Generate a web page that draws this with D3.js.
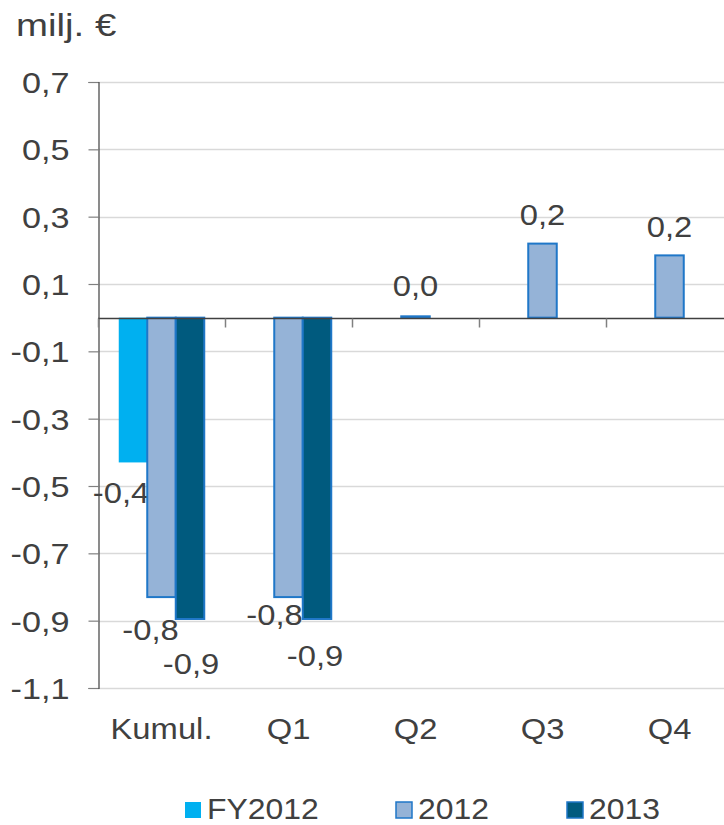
<!DOCTYPE html>
<html>
<head>
<meta charset="utf-8">
<script src="https://cdn.jsdelivr.net/npm/d3@7/dist/d3.min.js"></script>
<style>
  body { margin: 0; background: #fff; }
  text { font-family: "Liberation Sans", Arial, sans-serif; fill: #404040; }
</style>
</head>
<body>
<div id="display"></div>
<script>
// data
const categories = ['Kumul.', 'Q1', 'Q2', 'Q3', 'Q4'];
const seriesNames = ['FY2012', '2012', '2013'];
const fy2012 = [-0.43, null, null, null, null];
const v2012 = [-0.83, -0.83, 0.004, 0.22, 0.185];
const v2013 = [-0.895, -0.895, null, null, null];
const labelsFY = ['-0,4', '', '', '', ''];
const labels2012 = ['-0,8', '-0,8', '0,0', '0,2', '0,2'];
const labels2013 = ['-0,9', '-0,9', '', '', ''];
const yTicks = [0.7, 0.5, 0.3, 0.1, -0.1, -0.3, -0.5, -0.7, -0.9, -1.1];

const colors = { 'FY2012': '#00b0f0', '2012': '#95b3d7', '2013': '#005a7e' };
const strokes = { 'FY2012': 'none', '2012': '#1f77c8', '2013': '#1f77c8' };

// where the exported data labels ended up, relative to bar end
const nudge = {
    'FY2012': [[-12, 30]],
    '2012': [[-11, 32], [-14, 17], [0, -31], [0, -29], [0, -29]],
    '2013': [[1, 45], [-2, 37]]
};

// the original text is a bit wider than Liberation Sans
const stretch = 1.13;

const svg = d3.select('#display')
    .append('svg')
    .attr('width', 724)
    .attr('height', 825);

const x = d3.scaleBand().domain(categories).range([98, 733]);
const xs = d3.scaleBand().domain(seriesNames).range([0, x.bandwidth()]).paddingOuter(0.728);
const y = d3.scaleLinear().domain([-1.1, 0.7]).range([688, 82]);

function putText(sel, px, py, k) {
    return sel.attr('x', null).attr('y', null)
        .attr('transform', (d, i) => `translate(${px(d, i)},${py(d, i)}) scale(${k},1)`);
}

// unit
putText(svg.append('text').datum(0), () => 16, () => 36, 1.2)
    .attr('font-size', '32px')
    .text('milj. €');

// grid
svg.append('g').selectAll('line')
    .data(yTicks)
    .join('line')
    .attr('x1', 98).attr('x2', 724)
    .attr('y1', d => Math.round(y(d)) + 0.5).attr('y2', d => Math.round(y(d)) + 0.5)
    .attr('stroke', '#d9d9d9').attr('stroke-width', 1.5);

// y axis
const yAxis = svg.append('g')
    .attr('transform', 'translate(98.5,0)')
    .call(d3.axisLeft(y).tickValues(yTicks).tickSize(10)
        .tickFormat(d => d3.format('.1f')(d).replace('.', ',').replace('−', '-')));
yAxis.select('.domain').attr('stroke', '#404040').attr('stroke-width', 1.2);
yAxis.selectAll('.tick line').attr('stroke', '#808080').attr('stroke-width', 1.2);
putText(yAxis.selectAll('.tick text'), () => -29, () => 0, 1.18)
    .attr('dy', '0.36em')
    .attr('font-size', '29px').attr('font-family', '"Liberation Sans", Arial, sans-serif')
    .attr('fill', '#404040');

// bars
const series = [
    { name: 'FY2012', values: fy2012, labels: labelsFY },
    { name: '2012', values: v2012, labels: labels2012 },
    { name: '2013', values: v2013, labels: labels2013 }
];

series.forEach(s => {
    const pts = categories.map((c, i) => ({ c, i, v: s.values[i], l: s.labels[i] }))
        .filter(d => d.v !== null);
    svg.append('g').selectAll('rect')
        .data(pts)
        .join('rect')
        .attr('x', d => x(d.c) + xs(s.name))
        .attr('width', xs.bandwidth())
        .attr('y', d => y(Math.max(0, d.v)))
        .attr('height', d => Math.max(1, Math.abs(y(d.v) - y(0))))
        .attr('fill', colors[s.name])
        .attr('stroke', strokes[s.name])
        .attr('stroke-width', 2);

    putText(svg.append('g').selectAll('text').data(pts).join('text'),
        d => x(d.c) + xs(s.name) + xs.bandwidth() / 2 + nudge[s.name][d.i][0],
        d => y(d.v) + nudge[s.name][d.i][1], stretch)
        .attr('dy', '0.36em')
        .attr('text-anchor', 'middle')
        .attr('font-size', '29px')
        .text(d => d.l);
});

// zero line and category ticks
const zero = Math.round(y(0)) + 0.5;
svg.append('line')
    .attr('x1', 98).attr('x2', 724)
    .attr('y1', zero).attr('y2', zero)
    .attr('stroke', '#404040').attr('stroke-width', 1.5);
svg.append('g').selectAll('line')
    .data(categories)
    .join('line')
    .attr('x1', d => x(d) + 0.5).attr('x2', d => x(d) + 0.5)
    .attr('y1', zero).attr('y2', zero + 9)
    .attr('stroke', '#808080').attr('stroke-width', 1.5);

putText(svg.append('g').selectAll('text').data(categories).join('text'),
    d => x(d) + x.bandwidth() / 2, () => 739, stretch)
    .attr('text-anchor', 'middle')
    .attr('font-size', '29px')
    .text(d => d);

// legend
const legendX = [185, 396, 567];
const legend = svg.append('g').selectAll('g')
    .data(seriesNames)
    .join('g')
    .attr('transform', (d, i) => `translate(${legendX[i]},802)`);
legend.append('rect')
    .attr('width', 16).attr('height', 16)
    .attr('fill', d => colors[d])
    .attr('stroke', d => strokes[d])
    .attr('stroke-width', 1.5);
putText(legend.append('text'), () => 22, () => 17, 1.1)
    .attr('font-size', '29px')
    .text(d => d);
</script>
</body>
</html>
